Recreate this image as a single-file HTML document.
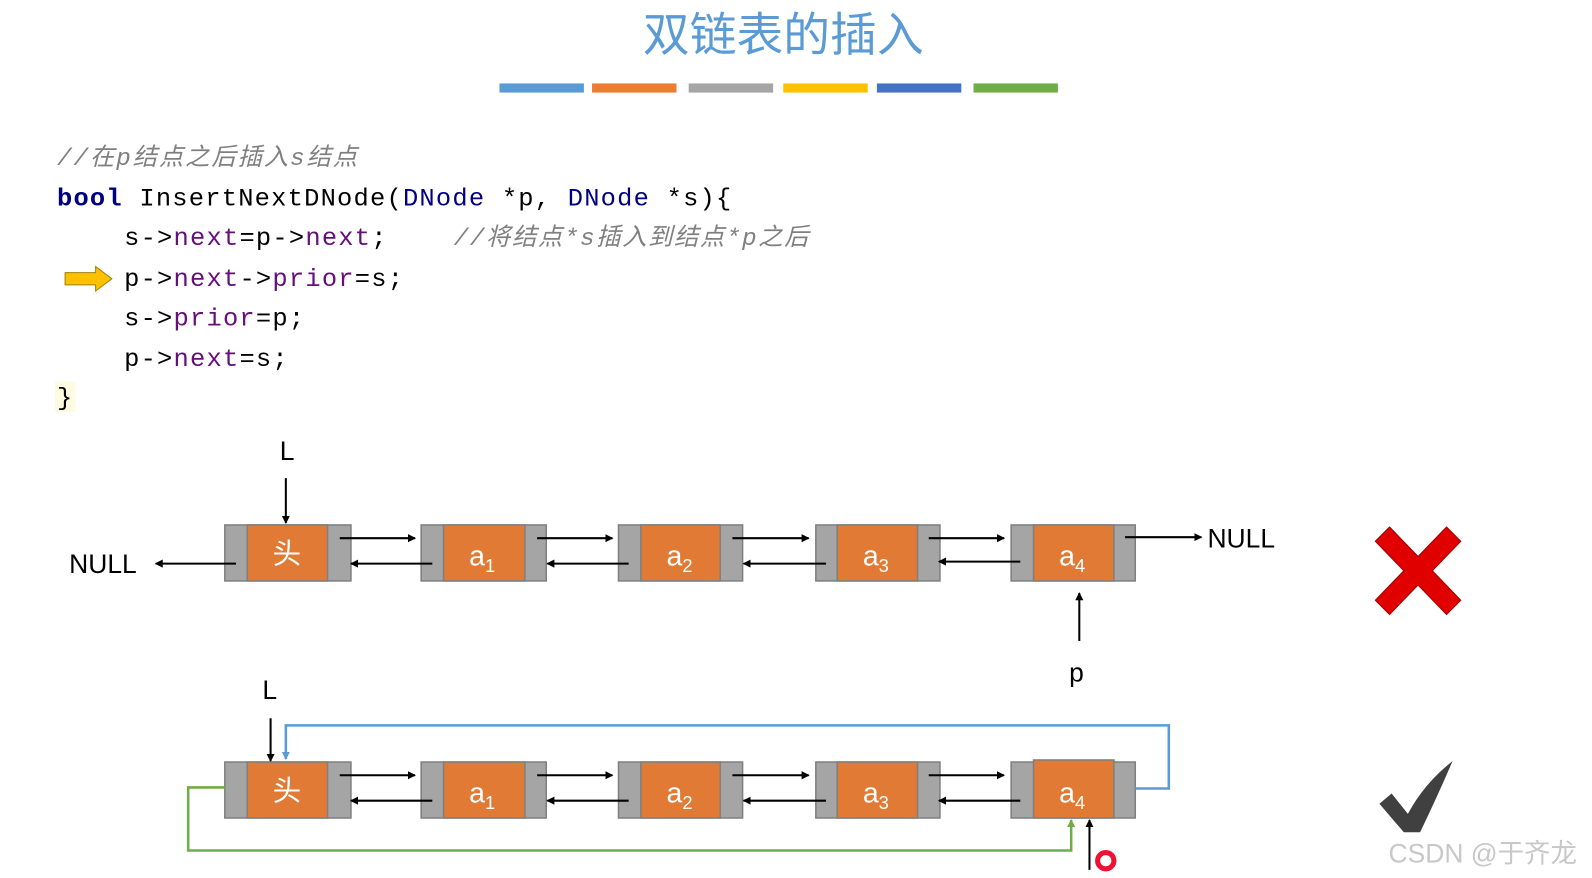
<!DOCTYPE html>
<html><head><meta charset="utf-8"><style>
body{margin:0;width:1592px;height:878px;background:#fff;overflow:hidden}
svg{display:block}
</style></head><body>
<svg width="1592" height="878" viewBox="0 0 1565 863" preserveAspectRatio="none" xmlns="http://www.w3.org/2000/svg">
<defs>
<marker id="ak" markerWidth="8" markerHeight="8" refX="7" refY="4" orient="auto" markerUnits="userSpaceOnUse"><path d="M0,0 L8,4 L0,8 z" fill="#000"/></marker>
<marker id="ab" markerWidth="8" markerHeight="8" refX="7" refY="4" orient="auto" markerUnits="userSpaceOnUse"><path d="M0,0 L8,4 L0,8 z" fill="#5b9bd5"/></marker>
<marker id="ag" markerWidth="8" markerHeight="8" refX="7" refY="4" orient="auto" markerUnits="userSpaceOnUse"><path d="M0,0 L8,4 L0,8 z" fill="#70ad47"/></marker>
</defs>
<text x="770" y="50" font-family="Liberation Sans,Noto Sans CJK SC,sans-serif" font-size="46" fill="#5b9bd5" text-anchor="middle">双链表的插入</text>
<rect x="491" y="82" width="83" height="9" fill="#5b9bd5"/>
<rect x="582" y="82" width="83" height="9" fill="#ed7d31"/>
<rect x="677" y="82" width="83" height="9" fill="#a5a5a5"/>
<rect x="770" y="82" width="83" height="9" fill="#ffc000"/>
<rect x="862" y="82" width="83" height="9" fill="#4472c4"/>
<rect x="957" y="82" width="83" height="9" fill="#70ad47"/>
<g font-family="Liberation Mono,Noto Sans CJK SC,monospace" font-size="25" letter-spacing="1.2">
<text x="56" y="162" fill="#808080" font-style="italic" font-size="24" letter-spacing="1.8">//在p结点之后插入s结点</text>
<text x="56" y="202"><tspan fill="#000080" font-weight="bold">bool</tspan><tspan fill="#000"> InsertNextDNode(</tspan><tspan fill="#000080">DNode</tspan><tspan fill="#000"> *p, </tspan><tspan fill="#000080">DNode</tspan><tspan fill="#000"> *s){</tspan></text>
<text x="122" y="241"><tspan fill="#000">s-&gt;</tspan><tspan fill="#660e7a">next</tspan><tspan fill="#000">=p-&gt;</tspan><tspan fill="#660e7a">next</tspan><tspan fill="#000">;</tspan></text>
<text x="446" y="241" fill="#808080" font-style="italic" font-size="24" letter-spacing="1.5">//将结点*s插入到结点*p之后</text>
<text x="122" y="281"><tspan fill="#000">p-&gt;</tspan><tspan fill="#660e7a">next</tspan><tspan fill="#000">-&gt;</tspan><tspan fill="#660e7a">prior</tspan><tspan fill="#000">=s;</tspan></text>
<text x="122" y="320"><tspan fill="#000">s-&gt;</tspan><tspan fill="#660e7a">prior</tspan><tspan fill="#000">=p;</tspan></text>
<text x="122" y="360"><tspan fill="#000">p-&gt;</tspan><tspan fill="#660e7a">next</tspan><tspan fill="#000">=s;</tspan></text>
<rect x="54" y="375" width="20" height="30" fill="#fffbe0"/>
<text x="56" y="398" fill="#000">}</text>
</g>
<path d="M64,268 L94,268 L94,262 L110,274 L94,286 L94,280 L64,280 z" fill="#ffc000" stroke="#a08000" stroke-width="1"/>
<g stroke="#7f7f7f" stroke-width="1.5">
<rect x="221" y="516" width="124" height="55" fill="#a5a5a5"/><rect x="243" y="516" width="79" height="55" fill="#e07a35"/>
<rect x="414" y="516" width="123" height="55" fill="#a5a5a5"/><rect x="436" y="516" width="80" height="55" fill="#e07a35"/>
<rect x="608" y="516" width="122" height="55" fill="#a5a5a5"/><rect x="630" y="516" width="78" height="55" fill="#e07a35"/>
<rect x="802" y="516" width="122" height="55" fill="#a5a5a5"/><rect x="823" y="516" width="79" height="55" fill="#e07a35"/>
<rect x="994" y="516" width="122" height="55" fill="#a5a5a5"/><rect x="1016" y="516" width="79" height="55" fill="#e07a35"/>
</g>
<g stroke="#7f7f7f" stroke-width="1.5">
<rect x="221" y="749" width="124" height="55" fill="#a5a5a5"/><rect x="243" y="749" width="79" height="55" fill="#e07a35"/>
<rect x="414" y="749" width="123" height="55" fill="#a5a5a5"/><rect x="436" y="749" width="80" height="55" fill="#e07a35"/>
<rect x="608" y="749" width="122" height="55" fill="#a5a5a5"/><rect x="630" y="749" width="78" height="55" fill="#e07a35"/>
<rect x="802" y="749" width="122" height="55" fill="#a5a5a5"/><rect x="823" y="749" width="79" height="55" fill="#e07a35"/>
<rect x="994" y="749" width="122" height="55" fill="#a5a5a5"/><rect x="1016" y="747" width="79" height="57" fill="#e07a35"/>
</g>
<g font-family="Liberation Sans,Noto Sans CJK SC,sans-serif" font-size="28" fill="#fff" text-anchor="middle">
<text x="282" y="554">头</text><text x="474" y="556">a<tspan font-size="18" dy="6">1</tspan></text><text x="668" y="556">a<tspan font-size="18" dy="6">2</tspan></text><text x="861" y="556">a<tspan font-size="18" dy="6">3</tspan></text><text x="1054" y="556">a<tspan font-size="18" dy="6">4</tspan></text>
<text x="282" y="787">头</text><text x="474" y="789">a<tspan font-size="18" dy="6">1</tspan></text><text x="668" y="789">a<tspan font-size="18" dy="6">2</tspan></text><text x="861" y="789">a<tspan font-size="18" dy="6">3</tspan></text><text x="1054" y="789">a<tspan font-size="18" dy="6">4</tspan></text>
</g>
<g stroke="#000" stroke-width="2" marker-end="url(#ak)">
<line x1="334" y1="529" x2="408" y2="529"/><line x1="528" y1="529" x2="602" y2="529"/><line x1="720" y1="529" x2="795" y2="529"/><line x1="913" y1="529" x2="987" y2="529"/>
<line x1="425" y1="554" x2="345" y2="554"/><line x1="618" y1="554" x2="538" y2="554"/><line x1="812" y1="554" x2="731" y2="554"/><line x1="1003" y1="552" x2="923" y2="552"/>
<line x1="1106" y1="528" x2="1181" y2="528"/><line x1="232" y1="554" x2="153" y2="554"/>
<line x1="281" y1="470" x2="281" y2="514"/><line x1="1061" y1="630" x2="1061" y2="583"/>
<line x1="334" y1="762" x2="408" y2="762"/><line x1="528" y1="762" x2="602" y2="762"/><line x1="720" y1="762" x2="795" y2="762"/><line x1="913" y1="762" x2="987" y2="762"/>
<line x1="425" y1="787" x2="345" y2="787"/><line x1="618" y1="787" x2="538" y2="787"/><line x1="812" y1="787" x2="731" y2="787"/><line x1="1003" y1="787" x2="923" y2="787"/>
<line x1="266" y1="706" x2="266" y2="748"/><line x1="1071" y1="855" x2="1071" y2="806"/>
</g>
<polyline points="1116,775 1149,775 1149,713 281,713 281,746" fill="none" stroke="#5b9bd5" stroke-width="2.5" marker-end="url(#ab)"/>
<polyline points="221,774 185,774 185,836 1053,836 1053,806" fill="none" stroke="#70ad47" stroke-width="2.5" marker-end="url(#ag)"/>
<g font-family="Liberation Sans,sans-serif" font-size="26" fill="#000">
<text x="68" y="563">NULL</text><text x="1187" y="538">NULL</text>
<text x="275" y="452">L</text><text x="258" y="687">L</text><text x="1051" y="670">p</text>
</g>
<path d="M1352,532 L1366,518 L1394,547 L1422,518 L1436,532 L1408,561 L1436,590 L1422,604 L1394,575 L1366,604 L1352,590 L1380,561 z" fill="#e00000" stroke="#a00000" stroke-width="1"/>
<path d="M1356,790 L1368,780 L1384,800 Q1400,770 1428,748 Q1412,785 1396,818 L1380,818 z" fill="#404040"/>
<circle cx="1087" cy="846" r="8" fill="none" stroke="#ee1133" stroke-width="5"/>
<text x="1365" y="848" font-family="Liberation Sans,Noto Sans CJK SC,sans-serif" font-size="26" fill="#c8c8c8">CSDN @于齐龙</text>
</svg>
</body></html>
